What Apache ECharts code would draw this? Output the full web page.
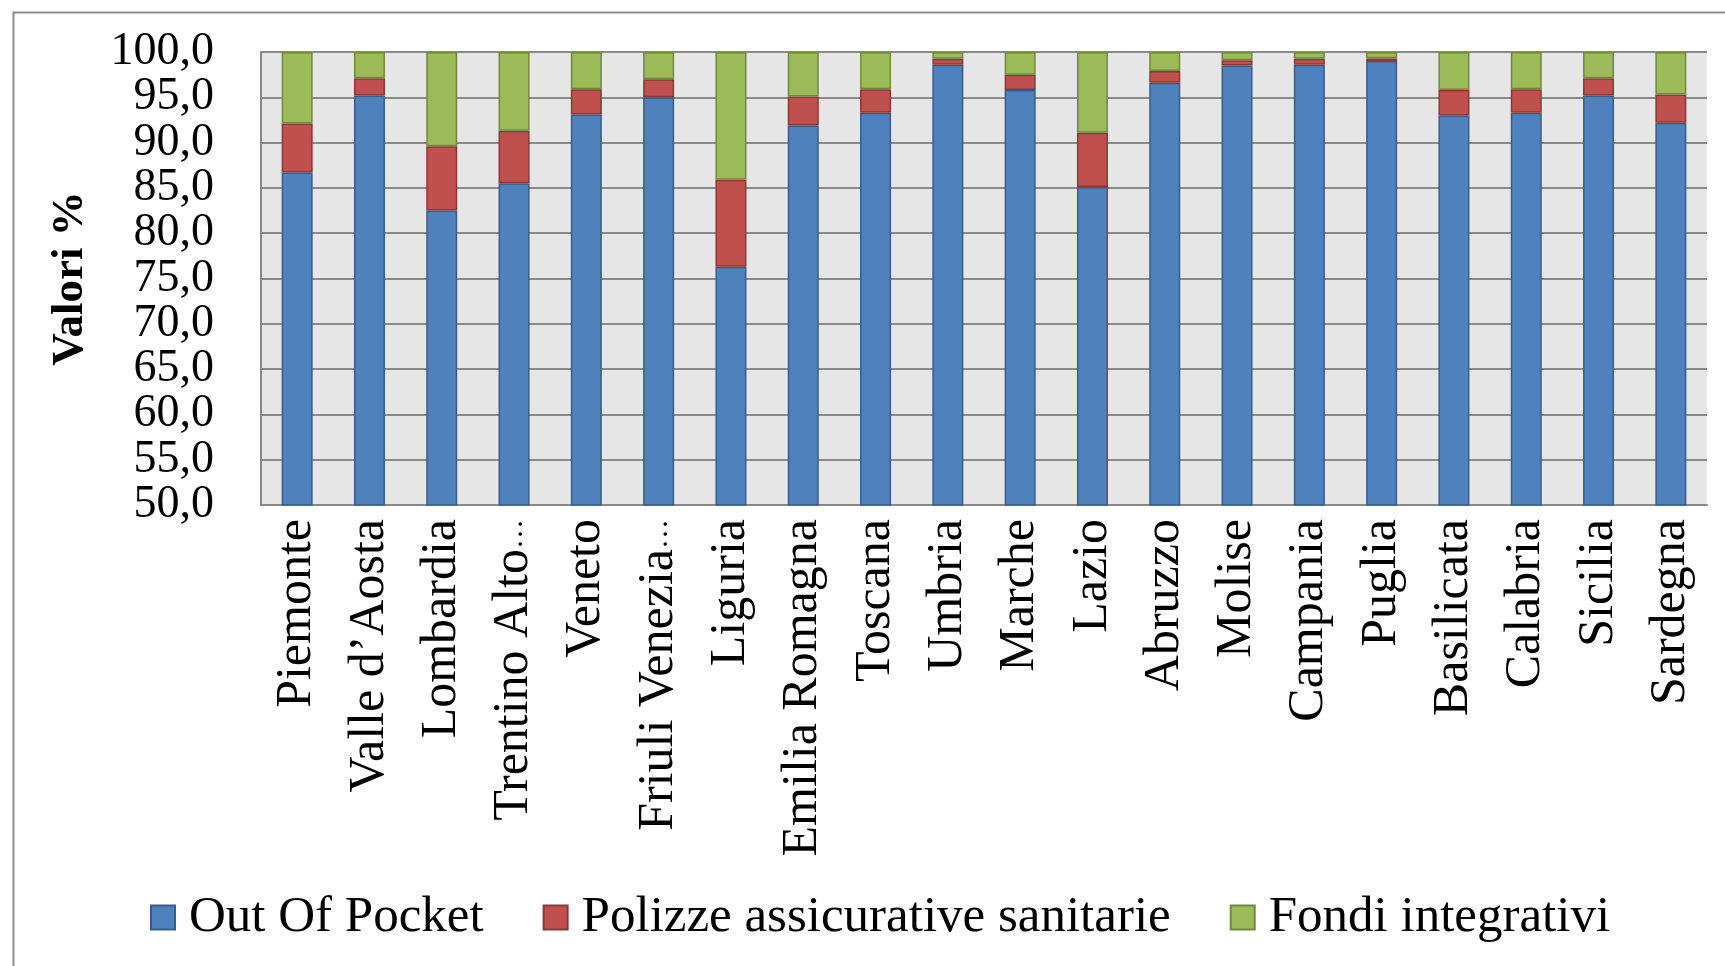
<!DOCTYPE html>
<html>
<head>
<meta charset="utf-8">
<script src="https://cdn.jsdelivr.net/npm/echarts@6/dist/echarts.min.js"></script>
<style>
html,body{margin:0;padding:0;background:#fff;}
#chart{width:1725px;height:966px;}
</style>
</head>
<body>
<div id="chart"></div>
<script>
const categories = ["Piemonte","Valle d\u2019Aosta","Lombardia","Trentino Alto\u2026","Veneto","Friuli Venezia\u2026","Liguria","Emilia Romagna","Toscana","Umbria","Marche","Lazio","Abruzzo","Molise","Campania","Puglia","Basilicata","Calabria","Sicilia","Sardegna"];
const outOfPocket = [86.7,95.2,82.5,85.5,93.1,95.0,76.3,91.9,93.3,98.6,95.8,85.1,96.6,98.5,98.6,99.0,93.0,93.3,95.2,92.2];
const polizze     = [5.4,1.9,7.1,5.8,2.8,2.0,9.6,3.2,2.6,0.65,1.7,6.0,1.3,0.6,0.65,0.3,2.8,2.6,1.9,3.1];
const fondi       = [7.9,2.9,10.4,8.7,4.1,3.0,14.1,4.9,4.1,0.75,2.5,8.9,2.1,0.9,0.75,0.7,4.2,4.1,2.9,4.7];
const seriesNames = ["Out Of Pocket","Polizze assicurative sanitarie","Fondi integrativi"];
const yMin = 50, yMax = 100, yStep = 5;

const font = "'Liberation Serif', serif";
const chart = echarts.init(document.getElementById('chart'), null, {renderer:'canvas'});
function barSeries(name, data, color, border){
  return {name:name, type:'bar', stack:'tot', data:data, barWidth:31, yAxisIndex:0,
    itemStyle:{color:color, borderColor:border, borderWidth:1.5}};
}
function fmt(v){ return v.toFixed(1).replace('.',','); }
const yLabelStyle = {fontFamily:font, fontSize:46, color:'#000', margin:47};
chart.setOption({
  backgroundColor:'#ffffff',
  animation:false,
  graphic:[{type:'rect', left:11, top:10, shape:{width:1800, height:1000},
    style:{fill:'none', stroke:'#8c8c8c', lineWidth:2}, silent:true}],
  grid:{left:261, right:18, top:52, bottom:461, show:true, backgroundColor:'#e6e6e6', borderWidth:0},
  legend:{top:887, left:145, itemWidth:24, itemHeight:24, itemGap:59,
    textStyle:{fontFamily:font, fontSize:51, color:'#000', padding:[0,0,0,9]}, icon:'rect',
    data:seriesNames},
  xAxis:{type:'category', data:categories,
    axisLine:{show:true, lineStyle:{color:'#888', width:2}},
    axisTick:{show:false},
    axisLabel:{interval:0, rotate:90, margin:14, fontFamily:font, fontSize:50, color:'#000',
      formatter:function(name){
        if (name.endsWith('\u2026')) return name.slice(0,-1) + '{e|\u2026}';
        return name;
      },
      rich:{e:{fontFamily:font, fontSize:30, color:'#000'}}}},
  yAxis:[
    {type:'value', min:yMin, max:yMax, interval:yStep, position:'left',
    name:'Valori %', nameLocation:'middle', nameGap:168,
    nameTextStyle:{fontFamily:font, fontSize:45, fontWeight:'bold', color:'#000'},
    axisLine:{show:true, lineStyle:{color:'#888', width:2}},
    axisTick:{show:false},
    splitLine:{show:true, lineStyle:{color:'#8a8a8a', width:2}},
    axisLabel:Object.assign({showMinLabel:false, showMaxLabel:false, formatter:fmt}, yLabelStyle)},
    {type:'value', min:yMin, max:yMax, interval:yStep, position:'left', offset:0,
    axisLine:{show:false}, axisTick:{show:false}, splitLine:{show:false},
    axisLabel:Object.assign({showMinLabel:true, showMaxLabel:true,
      formatter:function(v){ return (v === yMin || v === yMax) ? fmt(v) : ''; }}, yLabelStyle)}
  ],
  series:[
    barSeries(seriesNames[0], outOfPocket, '#4F81BD', '#385D8A'),
    barSeries(seriesNames[1], polizze, '#C0504D', '#8C3836'),
    barSeries(seriesNames[2], fondi, '#9BBB59', '#71893F')
  ]
});
</script>
</body>
</html>
